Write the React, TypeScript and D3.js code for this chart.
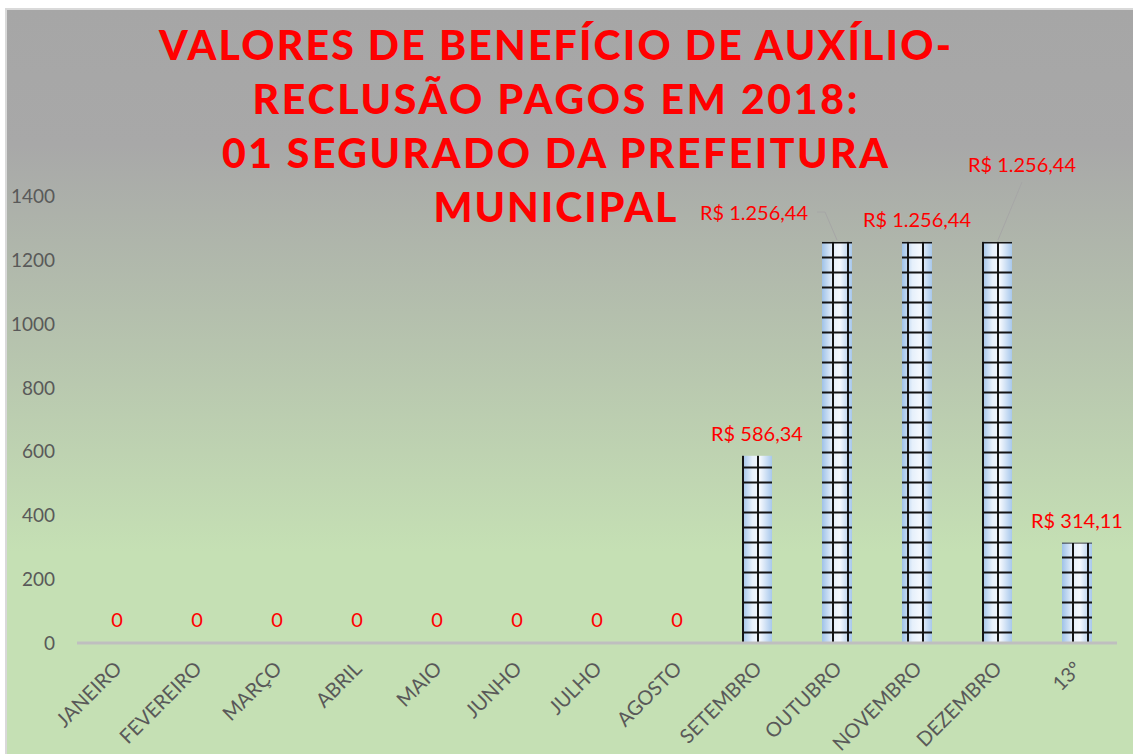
import React from "react";
import * as d3 from "d3";

const categories = ["JANEIRO", "FEVEREIRO", "MARÇO", "ABRIL", "MAIO", "JUNHO", "JULHO", "AGOSTO", "SETEMBRO", "OUTUBRO", "NOVEMBRO", "DEZEMBRO", "13º"];
const values = [0, 0, 0, 0, 0, 0, 0, 0, 586.34, 1256.44, 1256.44, 1256.44, 314.11];
const valueLabels = ["0", "0", "0", "0", "0", "0", "0", "0", "R$ 586,34", "R$ 1.256,44", "R$ 1.256,44", "R$ 1.256,44", "R$ 314,11"];
const yTicks = [0, 200, 400, 600, 800, 1000, 1200, 1400];
const titleLines = ["VALORES DE BENEFÍCIO DE AUXÍLIO-", "RECLUSÃO PAGOS EM 2018:", "01 SEGURADO DA PREFEITURA", "MUNICIPAL"];

const W = 1133, H = 754;
const plotLeft = 77, plotRight = 1117, plotTop = 196, plotBottom = 643;
const FONT = "Lato, 'Open Sans', sans-serif";

export default function App() {
  const x = d3.scaleBand<string>().domain(categories).range([plotLeft, plotRight]).paddingInner(0.625).paddingOuter(0.3125);
  const y = d3.scaleLinear().domain([0, 1400]).range([plotBottom, plotTop]);
  const cx = (c: string) => (x(c) as number) + x.bandwidth() / 2;

  const titleWidths = [792, 605, 666, 243];
  const titleBase = [60, 114, 168, 222];

  return (
    <svg width={W} height={H} style={{ position: "absolute", left: 0, top: 0, display: "block" }} fontFamily={FONT}>
      <defs>
        <linearGradient id="bg" x1="0" y1="0" x2="0" y2="1">
          <stop offset="0" stopColor="#a6a6a6" />
          <stop offset="0.18" stopColor="#a8a8a8" />
          <stop offset="0.72" stopColor="#c5e0b4" />
          <stop offset="1" stopColor="#c5e0b4" />
        </linearGradient>
        <linearGradient id="barfill" x1="0" y1="0" x2="1" y2="0">
          <stop offset="0" stopColor="#9fc2e8" />
          <stop offset="0.35" stopColor="#e6f0fb" />
          <stop offset="0.6" stopColor="#f4f8fd" />
          <stop offset="1" stopColor="#a8c8ec" />
        </linearGradient>
        <pattern id="grid" patternUnits="userSpaceOnUse" width={15} height={15} x={7} y={1.5}>
          <line x1={1} y1={0} x2={1} y2={15} stroke="#141414" strokeWidth={2} />
          <line x1={0} y1={1} x2={15} y2={1} stroke="#141414" strokeWidth={2} />
        </pattern>
      </defs>
      <rect x={6} y={9} width={W} height={H} fill="url(#bg)" stroke="#d9d9d9" strokeWidth={2} />

      {titleLines.map((t, i) => (
        <text key={t} x={555} y={titleBase[i]} textAnchor="middle" fill="#ff0000" fontWeight={900} fontSize={41}
          textLength={titleWidths[i]} lengthAdjust="spacing">{t}</text>
      ))}

      {yTicks.map((t) => (
        <text key={t} x={55} y={y(t) + 7} textAnchor="end" fill="#595959" fontSize={19}>{t}</text>
      ))}

      {categories.map((c, i) => values[i] > 0 ? (
        <g key={c}>
          <rect x={x(c)} y={y(values[i])} width={x.bandwidth()} height={plotBottom - y(values[i])} fill="url(#barfill)" />
          <rect x={x(c)} y={y(values[i])} width={x.bandwidth()} height={plotBottom - y(values[i])} fill="url(#grid)" />
        </g>
      ) : null)}

      <line x1={plotLeft} x2={plotRight} y1={plotBottom} y2={plotBottom} stroke="#bfbfbf" strokeWidth={3} />

      {categories.map((c, i) => {
        let lx = cx(c), ly = y(values[i]) - 15;
        if (values[i] === 0) ly = plotBottom - 16;
        if (c === "OUTUBRO") { lx = 754; ly = 220; }
        if (c === "DEZEMBRO") { lx = 1022; ly = 172; }
        return (
          <text key={c} x={lx} y={ly} textAnchor="middle" fill="#ff0000" fontSize={20}>{valueLabels[i]}</text>
        );
      })}
      <polyline points="817,212 825,212 837,240" fill="none" stroke="#a6a6a6" strokeWidth={1} />
      <polyline points="1022,182 998,240" fill="none" stroke="#a6a6a6" strokeWidth={1} />

      {categories.map((c) => (
        <text key={c} transform={`translate(${cx(c) + 6},${plotBottom + 27}) rotate(-45)`} textAnchor="end" fill="#595959" fontSize={20}>{c}</text>
      ))}
    </svg>
  );
}
